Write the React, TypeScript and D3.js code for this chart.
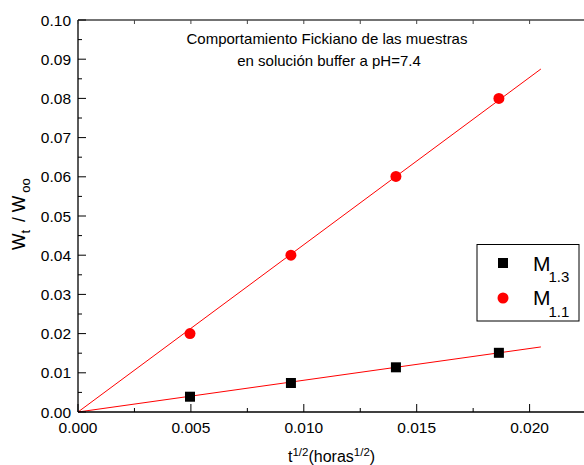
import React from 'react';
import * as d3 from 'd3';

// data
const xM13 = [0.00496, 0.00943, 0.01408, 0.01864];
const yM13 = [0.0039, 0.0074, 0.0114, 0.0151];
const xM11 = [0.00496, 0.00943, 0.01408, 0.01864];
const yM11 = [0.0200, 0.0400, 0.0601, 0.0800];
const fitEndX = 0.0205;
const fitM13 = [0, 0.0166]; // y at 0 and at fitEndX
const fitM11 = [0, 0.0875];
const xTicks = [0, 0.005, 0.01, 0.015, 0.02];
const yTicks = [0, 0.01, 0.02, 0.03, 0.04, 0.05, 0.06, 0.07, 0.08, 0.09, 0.1];

const W = 584;
const H = 465;
const font = '"Liberation Sans", Arial, sans-serif';

export default function App() {
  const x = d3.scaleLinear().domain([0, 0.025]).range([78, 642.5]);
  const y = d3.scaleLinear().domain([0, 0.1]).range([412, 20]);

  const xMinor = d3.range(0, 0.025, 0.0025);
  const yMinor = d3.range(0, 0.1001, 0.005);

  const line = d3.line<[number, number]>().x(d => x(d[0])).y(d => y(d[1]));

  return (
    <svg width={W} height={H} style={{ position: 'absolute', left: 0, top: 0, fontFamily: font }}>
      <rect width={W} height={H} fill="#fff" />
      {/* fitted lines */}
      <path d={line([[0, fitM11[0]], [fitEndX, fitM11[1]]]) || ''} stroke="#ff0000" strokeWidth={1} fill="none" />
      <path d={line([[0, fitM13[0]], [fitEndX, fitM13[1]]]) || ''} stroke="#ff0000" strokeWidth={1} fill="none" />

      {/* axes */}
      <line x1={x(0)} x2={W} y1={y(0.1)} y2={y(0.1)} stroke="#444" strokeWidth={1.5} />
      <line x1={x(0)} x2={W} y1={y(0)} y2={y(0)} stroke="#000" strokeWidth={1.3} />
      <line x1={x(0)} x2={x(0)} y1={y(0)} y2={y(0.1)} stroke="#000" strokeWidth={1.3} />
      {xMinor.map((t, i) => {
        const major = i % 2 === 0;
        return (
          <g key={'xt' + i}>
            <line x1={x(t)} x2={x(t)} y1={y(0)} y2={y(0) - (major ? 8 : 4)} stroke="#000" strokeWidth={1} />
            <line x1={x(t)} x2={x(t)} y1={y(0.1)} y2={y(0.1) + 4} stroke="#444" strokeWidth={1} />
          </g>
        );
      })}
      {yMinor.map((t, i) => {
        const major = i % 2 === 0;
        return <line key={'yt' + i} x1={x(0)} x2={x(0) + (major ? 8 : 4)} y1={y(t)} y2={y(t)} stroke="#000" strokeWidth={1} />;
      })}
      {xTicks.map((t, i) => (
        <text key={'xl' + i} x={x(t)} y={433} fontSize={15.5} textAnchor="middle">{d3.format('.3f')(t)}</text>
      ))}
      {yTicks.map((t, i) => (
        <text key={'yl' + i} x={71} y={y(t) + 5.5} fontSize={15.5} textAnchor="end">{d3.format('.2f')(t)}</text>
      ))}

      {/* markers */}
      {xM13.map((v, i) => (
        <rect key={'s' + i} x={x(v) - 5} y={y(yM13[i]) - 5} width={10} height={10} fill="#000" />
      ))}
      {xM11.map((v, i) => (
        <circle key={'c' + i} cx={x(v)} cy={y(yM11[i])} r={5.5} fill="#ff0000" />
      ))}

      {/* title */}
      <text x={327} y={44} fontSize={15} textAnchor="middle">Comportamiento Fickiano de las muestras</text>
      <text x={329} y={66} fontSize={15} textAnchor="middle">en solución buffer a pH=7.4</text>

      {/* legend */}
      <rect x={477} y={244.5} width={102} height={76.5} fill="#fff" stroke="#000" strokeWidth={1} />
      <rect x={498} y={258} width={10} height={10} fill="#000" />
      <circle cx={503} cy={298} r={5.5} fill="#ff0000" />
      <text x={533} y={271} fontSize={21}>M<tspan fontSize={15} dx={-2} dy={11}>1.3</tspan></text>
      <text x={533} y={305} fontSize={21}>M<tspan fontSize={15} dx={-2} dy={12}>1.1</tspan></text>

      {/* axis titles */}
      <text transform="translate(25,250) rotate(-90)" fontSize={17.5}>
        W<tspan fontSize={13} dy={5}>t</tspan><tspan dx={3} dy={-5}> / W</tspan><tspan fontSize={13} dx={3} dy={5}>oo</tspan>
      </text>
      <text x={288} y={462} fontSize={16}>
        t<tspan fontSize={11.5} dy={-6}>1/2</tspan><tspan dy={6}>(horas</tspan><tspan fontSize={11.5} dy={-6}>1/2</tspan><tspan dy={6}>)</tspan>
      </text>
    </svg>
  );
}
